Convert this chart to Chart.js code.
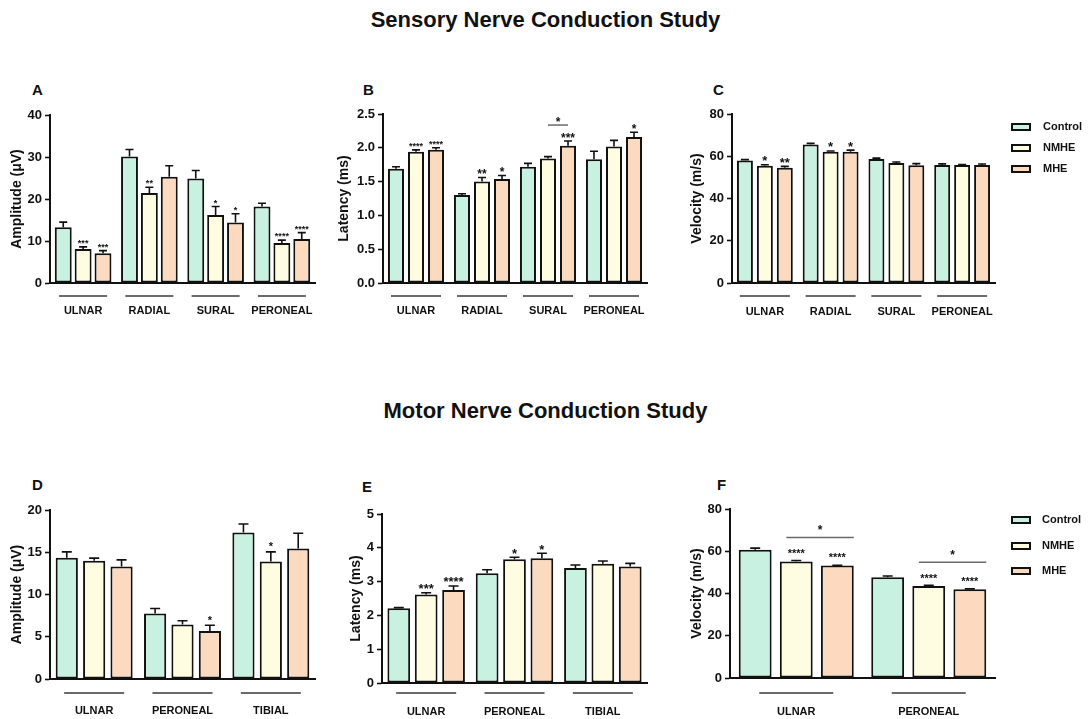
<!DOCTYPE html>
<html><head><meta charset="utf-8">
<script src="https://cdn.jsdelivr.net/npm/chart.js@4.4.1/dist/chart.umd.min.js"></script>
<style>
html,body{margin:0;padding:0;background:#fff;}
#wrap{position:relative;width:1091px;height:719px;overflow:hidden;font-family:"Liberation Sans",Arial,sans-serif;color:#111;}
canvas{position:absolute;}
.title{position:absolute;left:0;width:1091px;text-align:center;font-weight:bold;font-size:22px;line-height:22px;}
.lab{position:absolute;font-weight:bold;font-size:15px;line-height:15px;}
</style></head><body>
<div id="wrap">
<div class="title" style="top:9px">Sensory Nerve Conduction Study</div>
<div class="title" style="top:400px">Motor Nerve Conduction Study</div>
<div class="lab" style="left:32px;top:82px">A</div>
<div class="lab" style="left:363px;top:82px">B</div>
<div class="lab" style="left:713px;top:82px">C</div>
<div class="lab" style="left:32px;top:477px">D</div>
<div class="lab" style="left:362px;top:479px">E</div>
<div class="lab" style="left:717px;top:477px">F</div>
<canvas id="cA" width="340" height="250" style="left:0px;top:80px"></canvas>
<canvas id="cB" width="350" height="250" style="left:330px;top:80px"></canvas>
<canvas id="cC" width="411" height="250" style="left:680px;top:80px"></canvas>
<canvas id="cD" width="340" height="244" style="left:0px;top:475px"></canvas>
<canvas id="cE" width="350" height="244" style="left:330px;top:475px"></canvas>
<canvas id="cF" width="411" height="244" style="left:680px;top:475px"></canvas>
</div>
<script>
// ---------- DATA ----------
const seriesNames = ['Control', 'NMHE', 'MHE'];
const sensoryNerves = ['ULNAR', 'RADIAL', 'SURAL', 'PERONEAL'];
const motorNerves = ['ULNAR', 'PERONEAL', 'TIBIAL'];
const motorVelocityNerves = ['ULNAR', 'PERONEAL'];

// A: sensory amplitude (µV)
const sensAmpTicks = [0, 10, 20, 30, 40];
const sensAmpControl = [13.3, 30.1, 24.9, 18.2];
const sensAmpControlSem = [1.2, 1.7, 1.9, 0.8];
const sensAmpNMHE = [8.1, 21.4, 16.2, 9.5];
const sensAmpNMHESem = [0.5, 1.4, 2.0, 0.7];
const sensAmpMHE = [7.1, 25.3, 14.4, 10.5];
const sensAmpMHESem = [0.6, 2.6, 2.1, 1.5];
const sensAmpNMHEStars = ['***', '**', '*', '****'];
const sensAmpMHEStars = ['***', '', '*', '****'];

// B: sensory latency (ms)
const sensLatTicks = [0, 0.5, 1.0, 1.5, 2.0, 2.5];
const sensLatControl = [1.69, 1.30, 1.72, 1.83];
const sensLatControlSem = [0.03, 0.02, 0.05, 0.12];
const sensLatNMHE = [1.94, 1.50, 1.84, 2.02];
const sensLatNMHESem = [0.03, 0.06, 0.03, 0.09];
const sensLatMHE = [1.97, 1.54, 2.03, 2.16];
const sensLatMHESem = [0.03, 0.05, 0.07, 0.07];
const sensLatNMHEStars = ['****', '**', '', ''];
const sensLatMHEStars = ['****', '*', '***', '*'];
const sensLatBrackets = [{ nerve: 'SURAL', from: 'NMHE', to: 'MHE', label: '*' }];

// C: sensory velocity (m/s)
const sensVelTicks = [0, 20, 40, 60, 80];
const sensVelControl = [58.0, 65.6, 58.7, 55.8];
const sensVelControlSem = [0.4, 0.5, 0.4, 0.6];
const sensVelNMHE = [55.5, 62.1, 56.8, 55.8];
const sensVelNMHESem = [0.5, 0.4, 0.5, 0.3];
const sensVelMHE = [54.6, 62.1, 55.7, 55.8];
const sensVelMHESem = [0.6, 0.8, 0.8, 0.5];
const sensVelNMHEStars = ['*', '*', '', ''];
const sensVelMHEStars = ['**', '*', '', ''];

// D: motor amplitude (µV)
const motAmpTicks = [0, 5, 10, 15, 20];
const motAmpControl = [14.35, 7.75, 17.35];
const motAmpControlSem = [0.7, 0.6, 1.0];
const motAmpNMHE = [14.0, 6.44, 13.9];
const motAmpNMHESem = [0.3, 0.45, 1.15];
const motAmpMHE = [13.3, 5.69, 15.45];
const motAmpMHESem = [0.8, 0.67, 1.8];
const motAmpNMHEStars = ['', '', '*'];
const motAmpMHEStars = ['', '*', ''];

// E: motor latency (ms)
const motLatTicks = [0, 1, 2, 3, 4, 5];
const motLatControl = [2.21, 3.25, 3.40];
const motLatControlSem = [0.02, 0.10, 0.09];
const motLatNMHE = [2.62, 3.66, 3.53];
const motLatNMHESem = [0.05, 0.06, 0.08];
const motLatMHE = [2.75, 3.69, 3.45];
const motLatMHESem = [0.12, 0.15, 0.09];
const motLatNMHEStars = ['***', '*', ''];
const motLatMHEStars = ['****', '*', ''];

// F: motor velocity (m/s)
const motVelTicks = [0, 20, 40, 60, 80];
const motVelControl = [60.7, 47.7];
const motVelControlSem = [0.8, 0.6];
const motVelNMHE = [55.2, 43.6];
const motVelNMHESem = [0.4, 0.3];
const motVelMHE = [53.2, 42.0];
const motVelMHESem = [0.2, 0.2];
const motVelNMHEStars = ['****', '****'];
const motVelMHEStars = ['****', '****'];
const motVelBrackets = [
  { nerve: 'ULNAR', from: 'NMHE', to: 'MHE', label: '*' },
  { nerve: 'PERONEAL', from: 'NMHE', to: 'MHE', label: '*' }
];

// ---------- STYLE ----------
const FONT = '"Liberation Sans", Arial, sans-serif';
const FILLS = ['rgb(200,241,226)', 'rgb(254,253,226)', 'rgb(251,218,192)'];
const INK = '#111';
const LINE_GREY = '#6a6a6a';

function makePanel(p) {
  const cv = p.canvas, pl = p.plot;
  const decor = {
    id: 'decor_' + p.id,
    afterDatasetsDraw(chart) {
      const ctx = chart.ctx, xs = chart.scales.x, ys = chart.scales.y, area = chart.chartArea;
      ctx.save();
      const caps = [];
      chart.data.datasets.forEach((ds, di) => {
        const meta = chart.getDatasetMeta(di);
        caps[di] = [];
        meta.data.forEach((bar, i) => {
          const v = ds.data[i], e = ds.sem[i];
          const yCap = ys.getPixelForValue(v + e);
          caps[di][i] = { x: bar.x, y: yCap, w: bar.width };
          ctx.strokeStyle = INK; ctx.lineWidth = 1.6;
          ctx.beginPath();
          ctx.moveTo(bar.x, bar.y); ctx.lineTo(bar.x, yCap);
          ctx.moveTo(bar.x - p.capW / 2, yCap); ctx.lineTo(bar.x + p.capW / 2, yCap);
          ctx.stroke();
          const s = ds.stars ? ds.stars[i] : '';
          if (s) {
            const sz = (p.starSizeFn ? p.starSizeFn(i, s) : p.starSize);
            ctx.font = 'bold ' + sz + 'px ' + FONT;
            ctx.fillStyle = INK; ctx.textAlign = 'center'; ctx.textBaseline = 'alphabetic';
            ctx.fillText(s, bar.x, yCap - p.starGap + 0.57 * sz);
          }
        });
      });
      (p.brackets || []).forEach(b => {
        const ci = chart.data.labels.indexOf(b.nerve);
        const fi = seriesNames.indexOf(b.from), ti = seriesNames.indexOf(b.to);
        const a = caps[fi][ci], c = caps[ti][ci];
        const y = Math.min(a.y, c.y) - p.bracketRise;
        const x1 = a.x - p.bracketL * a.w, x2 = c.x + p.bracketR * c.w;
        ctx.strokeStyle = LINE_GREY; ctx.lineWidth = 1.5;
        ctx.beginPath(); ctx.moveTo(x1, y); ctx.lineTo(x2, y); ctx.stroke();
        const sz = p.bracketStarSize;
        ctx.font = 'bold ' + sz + 'px ' + FONT; ctx.fillStyle = INK; ctx.textAlign = 'center'; ctx.textBaseline = 'alphabetic';
        ctx.fillText(b.label, (x1 + x2) / 2, y - p.bracketStarGap + 0.57 * sz);
      });
      ctx.strokeStyle = LINE_GREY; ctx.lineWidth = 2;
      chart.data.labels.forEach((lab, i) => {
        const x = xs.getPixelForValue(i);
        const y = area.bottom + p.ulOff;
        ctx.beginPath(); ctx.moveTo(x - p.ulHalf, y); ctx.lineTo(x + p.ulHalf, y); ctx.stroke();
      });
      if (p.legend) {
        seriesNames.forEach((n, i) => {
          const lx = p.legend.x - cv.l, ly = p.legend.y[i] - cv.t;
          ctx.fillStyle = FILLS[i]; ctx.fillRect(lx, ly - 3, 18, 6);
          ctx.strokeStyle = INK; ctx.lineWidth = 2; ctx.strokeRect(lx, ly - 3, 18, 6);
          ctx.font = 'bold 11px ' + FONT; ctx.fillStyle = INK; ctx.textAlign = 'left'; ctx.textBaseline = 'middle';
          ctx.fillText(n, p.legend.textX - cv.l, ly);
        });
      }
      ctx.restore();
    }
  };
  return new Chart(document.getElementById(p.id), {
    type: 'bar',
    data: {
      labels: p.categories,
      datasets: p.series.map((s, i) => ({
        label: seriesNames[i], data: s.values, sem: s.sem, stars: s.stars,
        backgroundColor: FILLS[i], borderColor: INK, borderWidth: 2, borderSkipped: false,
        categoryPercentage: p.catPct, barPercentage: p.barPct
      }))
    },
    options: {
      responsive: false, animation: false, devicePixelRatio: 1,
      layout: { padding: { top: pl.t - cv.t, right: cv.l + cv.w - pl.r, left: 0, bottom: 0 } },
      plugins: { legend: { display: false }, tooltip: { enabled: false } },
      scales: {
        x: {
          grid: { display: false, drawTicks: false },
          border: { display: true, color: INK, width: 2 },
          ticks: { color: INK, font: { family: FONT, weight: 'bold', size: 11 }, padding: p.labelPad, maxRotation: 0, autoSkip: false },
          afterFit: s => { s.height = cv.t + cv.h - pl.b; }
        },
        y: {
          min: p.ticks[0], max: p.ticks[p.ticks.length - 1],
          grid: { drawOnChartArea: false, drawTicks: true, tickLength: 5, tickColor: INK, tickWidth: 1.6 },
          border: { display: true, color: INK, width: 2 },
          ticks: { color: INK, font: { family: FONT, weight: 'bold', size: 13 }, padding: 3, callback: v => Number(v).toFixed(p.decimals) },
          afterBuildTicks: s => { s.ticks = p.ticks.map(v => ({ value: v })); },
          title: { display: true, text: p.yTitle, color: INK, font: { family: FONT, weight: 'bold', size: 14 }, padding: { top: p.titlePad, bottom: 0 } },
          afterFit: s => { s.width = pl.l - cv.l; }
        }
      }
    },
    plugins: [decor]
  });
}

makePanel({
  id: 'cA', canvas: { l: 0, t: 80, w: 340, h: 250 }, plot: { l: 50, r: 315, t: 115, b: 283 },
  categories: sensoryNerves, ticks: sensAmpTicks, decimals: 0, yTitle: 'Amplitude (\u03bcV)',
  series: [
    { values: sensAmpControl, sem: sensAmpControlSem },
    { values: sensAmpNMHE, sem: sensAmpNMHESem, stars: sensAmpNMHEStars },
    { values: sensAmpMHE, sem: sensAmpMHESem, stars: sensAmpMHEStars }
  ],
  catPct: 0.9, barPct: 0.85, titlePad: 9, labelPad: 21, ulOff: 13, ulHalf: 24,
  capW: 8, starSize: 9, starGap: 6
});
makePanel({
  id: 'cB', canvas: { l: 330, t: 80, w: 350, h: 250 }, plot: { l: 383, r: 647, t: 114, b: 283 },
  categories: sensoryNerves, ticks: sensLatTicks, decimals: 1, yTitle: 'Latency (ms)',
  series: [
    { values: sensLatControl, sem: sensLatControlSem },
    { values: sensLatNMHE, sem: sensLatNMHESem, stars: sensLatNMHEStars },
    { values: sensLatMHE, sem: sensLatMHESem, stars: sensLatMHEStars }
  ],
  catPct: 0.91, barPct: 0.8, titlePad: 6, labelPad: 21, ulOff: 13, ulHalf: 25,
  capW: 8, starSize: 12, starSizeFn: (i, s) => (s.length >= 4 ? 9 : 12), starGap: 6,
  brackets: sensLatBrackets, bracketRise: 16, bracketL: 0, bracketR: 0, bracketStarSize: 12, bracketStarGap: 6
});
makePanel({
  id: 'cC', canvas: { l: 680, t: 80, w: 411, h: 250 }, plot: { l: 732, r: 995, t: 114, b: 283 },
  categories: sensoryNerves, ticks: sensVelTicks, decimals: 0, yTitle: 'Velocity (m/s)',
  series: [
    { values: sensVelControl, sem: sensVelControlSem },
    { values: sensVelNMHE, sem: sensVelNMHESem, stars: sensVelNMHEStars },
    { values: sensVelMHE, sem: sensVelMHESem, stars: sensVelMHEStars }
  ],
  catPct: 0.91, barPct: 0.8, titlePad: 9, labelPad: 22, ulOff: 13, ulHalf: 25,
  capW: 8, starSize: 13, starGap: 7,
  legend: { x: 1012, textX: 1043, y: [127, 148, 169] }
});
makePanel({
  id: 'cD', canvas: { l: 0, t: 475, w: 340, h: 244 }, plot: { l: 50, r: 315, t: 510, b: 679 },
  categories: motorNerves, ticks: motAmpTicks, decimals: 0, yTitle: 'Amplitude (\u03bcV)',
  series: [
    { values: motAmpControl, sem: motAmpControlSem },
    { values: motAmpNMHE, sem: motAmpNMHESem, stars: motAmpNMHEStars },
    { values: motAmpMHE, sem: motAmpMHESem, stars: motAmpMHEStars }
  ],
  catPct: 0.93, barPct: 0.81, titlePad: 9, labelPad: 25, ulOff: 14, ulHalf: 30,
  capW: 10, starSize: 11, starGap: 8
});
makePanel({
  id: 'cE', canvas: { l: 330, t: 475, w: 350, h: 244 }, plot: { l: 382, r: 647, t: 514, b: 683 },
  categories: motorNerves, ticks: motLatTicks, decimals: 0, yTitle: 'Latency (ms)',
  series: [
    { values: motLatControl, sem: motLatControlSem },
    { values: motLatNMHE, sem: motLatNMHESem, stars: motLatNMHEStars },
    { values: motLatMHE, sem: motLatMHESem, stars: motLatMHEStars }
  ],
  catPct: 0.93, barPct: 0.83, titlePad: 18, labelPad: 22, ulOff: 10, ulHalf: 30,
  capW: 10, starSize: 13, starGap: 7
});
makePanel({
  id: 'cF', canvas: { l: 680, t: 475, w: 411, h: 244 }, plot: { l: 730, r: 995, t: 509, b: 678 },
  categories: motorVelocityNerves, ticks: motVelTicks, decimals: 0, yTitle: 'Velocity (m/s)',
  series: [
    { values: motVelControl, sem: motVelControlSem },
    { values: motVelNMHE, sem: motVelNMHESem, stars: motVelNMHEStars },
    { values: motVelMHE, sem: motVelMHESem, stars: motVelMHEStars }
  ],
  catPct: 0.93, barPct: 0.8, titlePad: 9, labelPad: 27, ulOff: 15, ulHalf: 37,
  capW: 10, starSize: 11, starGap: 10,
  brackets: motVelBrackets, bracketRise: 23, bracketL: 0.3, bracketR: 0.5, bracketStarSize: 12, bracketStarGap: 10,
  legend: { x: 1012, textX: 1042, y: [520, 546, 571] }
});
</script>
</body></html>
